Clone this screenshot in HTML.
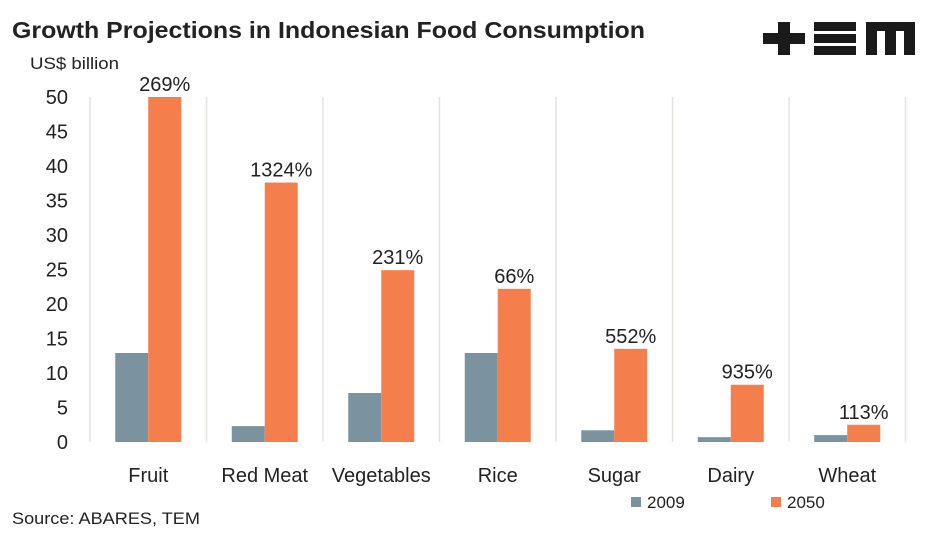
<!DOCTYPE html>
<html><head><meta charset="utf-8"><style>
body{margin:0;background:#fff;font-family:"Liberation Sans",sans-serif;}
svg text{font-family:"Liberation Sans",sans-serif;fill:#222;}
</style></head><body>
<svg width="941" height="535" xmlns="http://www.w3.org/2000/svg">
<text x="12" y="38" font-size="23" font-weight="bold" textLength="633" lengthAdjust="spacingAndGlyphs">Growth Projections in Indonesian Food Consumption</text>
<g fill="#1a1a1a">
<rect x="763" y="33" width="42" height="11"/><rect x="778" y="22" width="12" height="33"/>
<rect x="814" y="22" width="42" height="9"/><rect x="814" y="34" width="42" height="9"/><rect x="814" y="46" width="42" height="9"/>
<rect x="866" y="22" width="49" height="9"/><rect x="866" y="22" width="11" height="33"/><rect x="885" y="22" width="11" height="33"/><rect x="904" y="22" width="11" height="33"/>
</g>
<text x="30" y="69" font-size="17" textLength="89" lengthAdjust="spacingAndGlyphs">US$ billion</text>
<g id="grid"></g><g id="yt"></g><g id="bars"></g><g id="xl"></g>
<g>
<rect x="631" y="497" width="10" height="10" fill="#7a939e"/>
<text x="647" y="508" font-size="17">2009</text>
<rect x="771" y="497" width="10" height="10" fill="#f47f4c"/>
<text x="787" y="508" font-size="17">2050</text>
</g>
<text x="12" y="524" font-size="17" textLength="188" lengthAdjust="spacingAndGlyphs">Source: ABARES, TEM</text>
</svg>
<script>
const categories=["Fruit","Red Meat","Vegetables","Rice","Sugar","Dairy","Wheat"];
const values2009=[12.9,2.3,7.1,12.9,1.7,0.7,1.0];
const values2050=[50,37.6,24.9,22.2,13.5,8.3,2.5];
const growthLabels=["269%","1324%","231%","66%","552%","935%","113%"];
const yTicks=[0,5,10,15,20,25,30,35,40,45,50];
const NS="http://www.w3.org/2000/svg";
const x0=90,cw=116.5,y0=442,y1=97,bw=33;
const y=v=>y0-(v/50)*(y0-y1);
function mk(t,a,p,txt){const e=document.createElementNS(NS,t);for(const k in a)e.setAttribute(k,a[k]);if(txt!=null)e.textContent=txt;document.getElementById(p).appendChild(e);return e;}
for(let i=0;i<=categories.length;i++){
 const l=mk("line",{x1:x0+i*cw,x2:x0+i*cw,y1:y1,y2:y0,stroke:"#e3e3de","stroke-width":1.5},"grid");
 
 
}
yTicks.forEach(v=>{
 const t=mk("text",{x:68,y:y(v)+7,"font-size":20,"text-anchor":"end"},"yt",v);
 
 
});
categories.forEach((c,i)=>{
 const cx=x0+cw*i+cw/2;
 const a=mk("rect",{x:cx-bw,y:y(values2009[i]),width:bw,height:y0-y(values2009[i]),fill:"#7a939e"},"bars");
 
 
 const b=mk("rect",{x:cx,y:y(values2050[i]),width:bw,height:y0-y(values2050[i]),fill:"#f47f4c"},"bars");
 
 
 const g=mk("text",{x:cx+bw/2,y:y(values2050[i])-6,"font-size":20,"text-anchor":"middle"},"bars",growthLabels[i]);
 
 
 const l=mk("text",{x:cx,y:482,"font-size":20,"text-anchor":"middle"},"xl",c);
 
 
});
</script>
</body></html>
